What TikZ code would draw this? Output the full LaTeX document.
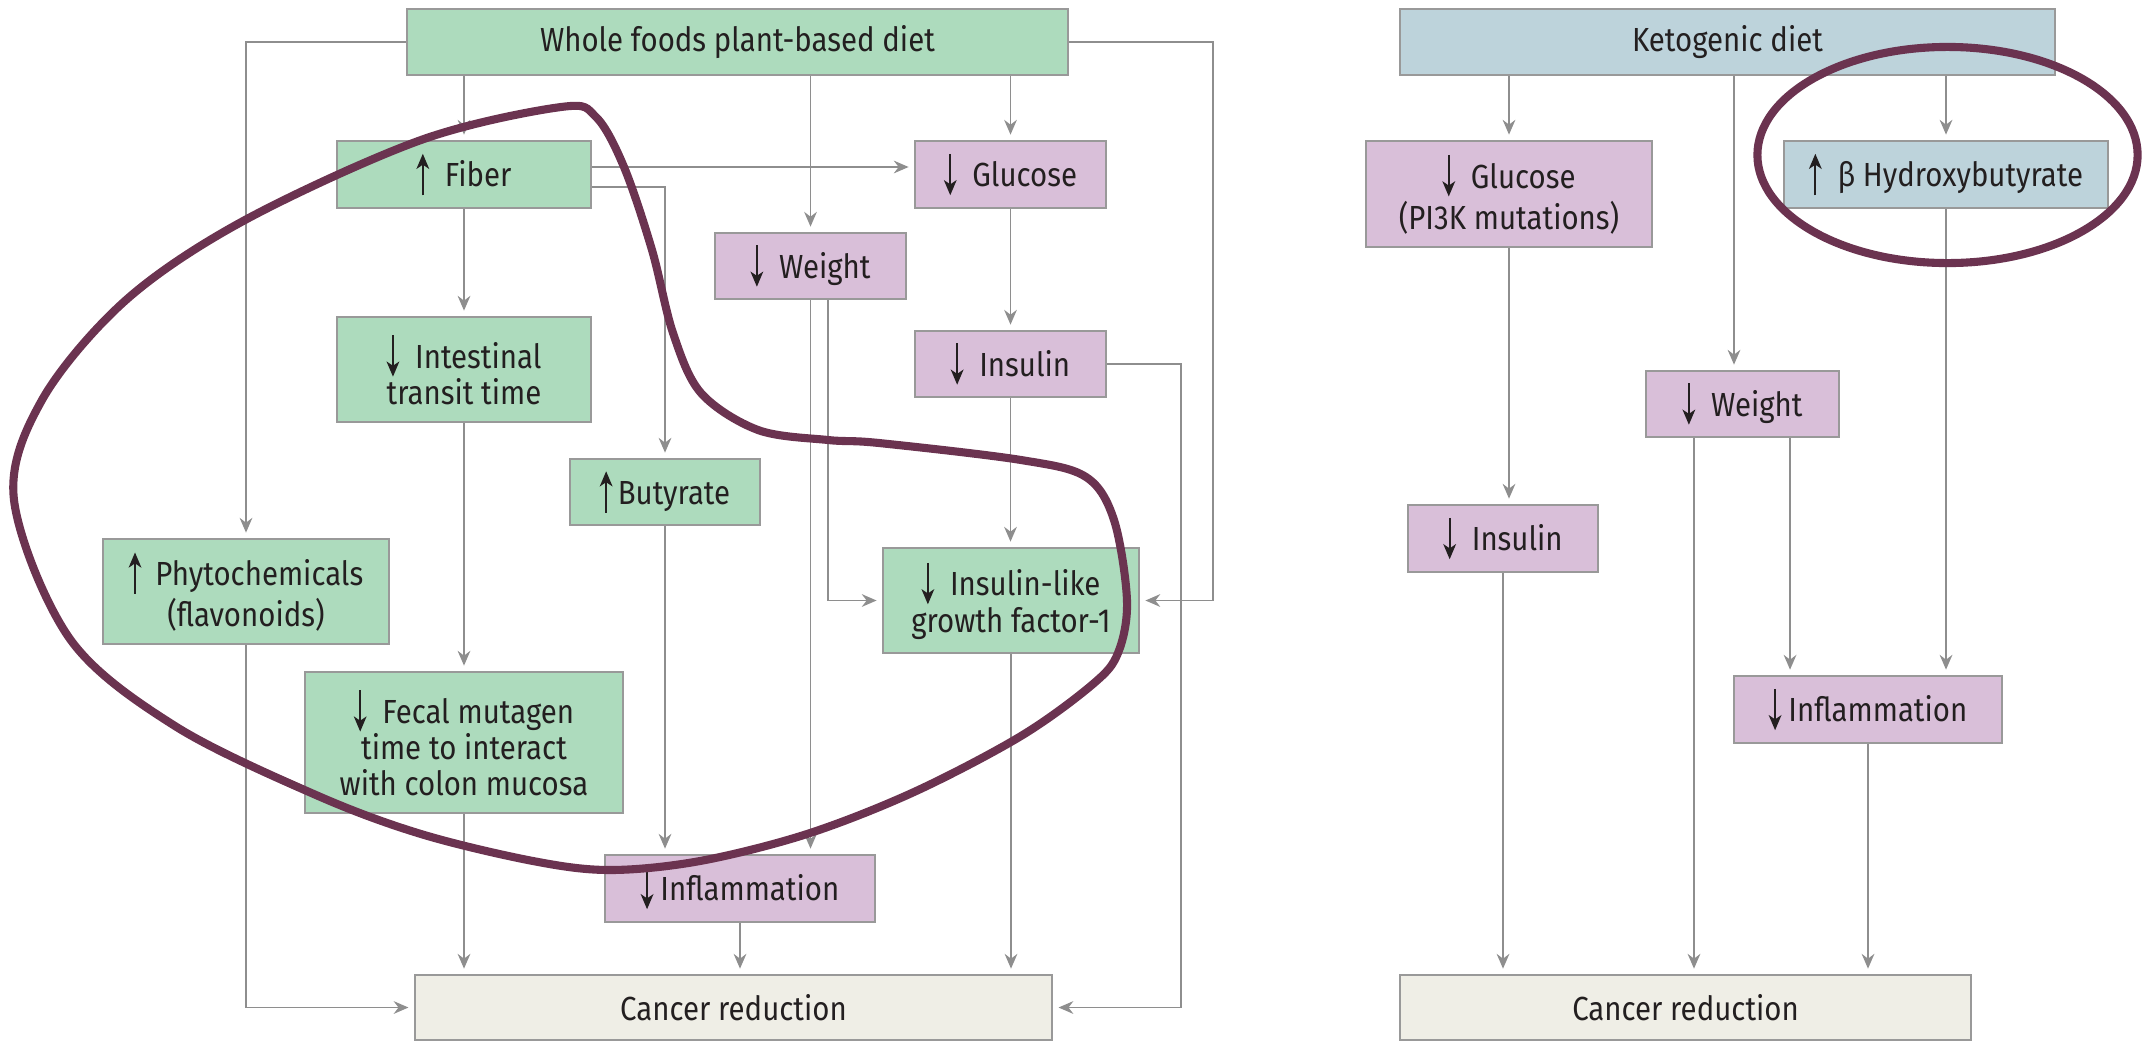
\documentclass[tikz,border=0pt]{standalone}
\usepackage{fontspec}
\setmainfont{Fira Sans}[FakeStretch=0.88]
\usetikzlibrary{arrows.meta}

\definecolor{plantgreen}{HTML}{ADDBBD}
\definecolor{lowpurple}{HTML}{D9BFD9}
\definecolor{ketoblue}{HTML}{BDD3DB}
\definecolor{outbeige}{HTML}{EFEEE6}
\definecolor{boxgray}{HTML}{999999}
\definecolor{flowgray}{HTML}{8E8E8E}
\definecolor{ringpurple}{HTML}{6B3350}
\definecolor{inkdark}{HTML}{231F20}

\tikzset{
  box/.style={draw=boxgray, line width=0.6pt, inner sep=0pt, align=center, text=inkdark,
    font=\fontsize{9.5}{10.3}\selectfont},
  plant/.style={box, fill=plantgreen},
  lower/.style={box, fill=lowpurple},
  keto/.style={box, fill=ketoblue},
  outcome/.style={box, fill=outbeige},
  flow/.style={draw=flowgray, line width=0.55pt, -{Stealth[length=4.2pt,width=3.6pt]}, shorten >=1.5pt},
  ring/.style={draw=ringpurple, line width=2.3pt},
  mark arrow/.style={draw=inkdark, line width=0.6pt, -{Stealth[length=4.3pt,width=3.6pt,inset=1.2pt]}},
}
% small up / down signs inside the boxes
\newcommand{\up}{\tikz[baseline=0pt]\draw[mark arrow] (0pt,-2.4pt) -- (0pt,9.4pt);}
\newcommand{\dn}{\tikz[baseline=0pt]\draw[mark arrow] (0pt,9.4pt) -- (0pt,-2.4pt);}

\begin{document}
\begin{tikzpicture}[x=0.01cm, y=-0.01cm]
 \useasboundingbox (0,0) rectangle (2146,1042);

 % plant-based side
 \node[plant, minimum width=6.61cm, minimum height=0.66cm] (wfpb) at (737.5,42) {Whole foods plant-based diet};
 \node[plant, minimum width=2.54cm, minimum height=0.67cm] (fiber) at (464,174.5) {\up\hspace{4.5pt}Fiber};
 \node[lower, minimum width=1.91cm, minimum height=0.67cm] (gluL) at (1010.5,174.5) {\dn\hspace{4.5pt}Glucose};
 \node[lower, minimum width=1.91cm, minimum height=0.66cm] (weiL) at (810.5,266) {\dn\hspace{4.5pt}Weight};
 \node[lower, minimum width=1.91cm, minimum height=0.66cm] (insL) at (1010.5,364) {\dn\hspace{4.5pt}Insulin};
 \node[plant, minimum width=2.54cm, minimum height=1.05cm] (transit) at (464,369.5) {\dn\hspace{4.5pt}Intestinal\\transit time};
 \node[plant, minimum width=1.90cm, minimum height=0.66cm] (buty) at (665,492) {\up\hspace{1.5pt}Butyrate};
 \node[plant, minimum width=2.86cm, minimum height=1.05cm] (phyto) at (246,591.5) {\up\hspace{4pt}Phytochemicals\\(flavonoids)};
 \node[plant, minimum width=2.56cm, minimum height=1.05cm] (igf) at (1011,600.5) {\dn\hspace{4.5pt}Insulin-like\\growth factor-1};
 \node[plant, minimum width=3.18cm, minimum height=1.41cm] (fecal) at (464,742.5) {\dn\hspace{4.5pt}Fecal mutagen\\time to interact\\with colon mucosa};
 \node[lower, minimum width=2.70cm, minimum height=0.67cm] (inflL) at (740,888.5) {\dn\hspace{2pt}Inflammation};
 \node[outcome, minimum width=6.37cm, minimum height=0.65cm] (cancerL) at (733.5,1007.5) {Cancer reduction};

 % ketogenic side
 \node[keto, minimum width=6.55cm, minimum height=0.66cm] (keto) at (1727.5,42) {Ketogenic diet};
 \node[lower, minimum width=2.86cm, minimum height=1.06cm] (gluR) at (1509,194) {\dn\hspace{4.5pt}Glucose\\(PI3K mutations)};
 \node[keto, minimum width=3.24cm, minimum height=0.67cm] (beta) at (1946,174.5) {\up\hspace{4.5pt}β Hydroxybutyrate};
 \node[lower, minimum width=1.93cm, minimum height=0.66cm] (weiR) at (1742.5,404) {\dn\hspace{4.5pt}Weight};
 \node[lower, minimum width=1.90cm, minimum height=0.67cm] (insR) at (1503,538.5) {\dn\hspace{4.5pt}Insulin};
 \node[lower, minimum width=2.68cm, minimum height=0.67cm] (inflR) at (1868,709.5) {\dn\hspace{2pt}Inflammation};
 \node[outcome, minimum width=5.71cm, minimum height=0.65cm] (cancerR) at (1685.5,1007.5) {Cancer reduction};

 % lines
 \foreach \a/\b in {wfpb/fiber, wfpb/weiL, wfpb/gluL, keto/gluR, keto/beta}
   \draw[flow] (\a.south -| \b.north) -- (\b.north);
 \foreach \a/\b in {fiber/transit, transit/fecal, gluL/insL, insL/igf, buty/inflL, weiL/inflL,
                    fecal/cancerL, inflL/cancerL, igf/cancerL,
                    gluR/insR, insR/cancerR, beta/inflR, inflR/cancerR}
   \draw[flow] (\a.south) -- (\a.south |- \b.north);

 \draw[flow] (wfpb.west) -| (phyto.north);
 \draw[flow] (phyto.south) |- (cancerL.west);
 \draw[flow] (wfpb.east) -- ++(144,0) |- (igf.east);
 \draw[flow] ([yshift=0.075cm]fiber.east) -- ([yshift=0.075cm]gluL.west);
 \draw[flow] ([yshift=-0.125cm]fiber.east) -| (buty.north);
 \draw[flow] ([xshift=0.175cm]weiL.south) |- (igf.west);
 \draw[flow] (insL.east) -- ++(74,0) |- (cancerL.east);

 \draw[flow] ([xshift=-0.085cm]keto.south -| weiR.north) -- ([xshift=-0.085cm]weiR.north);
 \draw[flow] ([xshift=-0.485cm]weiR.south) -- ([xshift=-0.485cm]weiR.south |- cancerR.north);
 \draw[flow] ([xshift=0.475cm]weiR.south) -- ([xshift=0.475cm]weiR.south |- inflR.north);

 % highlights
 \draw[ring] plot[smooth cycle, tension=0.55] coordinates {
   (561,107) (596,117) (624,167) (652,250) (673,333) (701,393) (758,430) (828,440)
   (879,443) (1021,460) (1086,477) (1114,520) (1127,601) (1118,653) (1093,684)
   (1021,736) (914,792) (807,834) (700,861) (610,870) (533,861) (421,834) (316,795)
   (175,726) (70,639) (14,500) (42,400) (126,300) (245,220) (421,140)};
 \draw[ring] (1947.5,155) ellipse [x radius=1.90cm, y radius=1.08cm];

\end{tikzpicture}
\end{document}
